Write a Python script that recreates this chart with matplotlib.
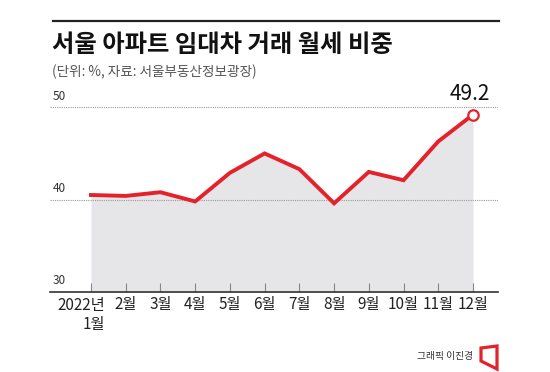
import matplotlib.pyplot as plt
from matplotlib.lines import Line2D
from matplotlib.patches import Polygon
from matplotlib.transforms import blended_transform_factory, ScaledTranslation

plt.rcParams['font.family'] = ['Noto Sans CJK KR', 'DejaVu Sans']

# monthly share of wolse (monthly rent) in Seoul apartment leases, %
months = ['2022년\n1월', '2월', '3월', '4월', '5월', '6월',
          '7월', '8월', '9월', '10월', '11월', '12월']
share = [40.5, 40.4, 40.8, 39.8, 42.9, 45.0, 43.3, 39.6, 43.0, 42.1, 46.3, 49.2]
yticks = [30, 40, 50]

RED = '#e4222b'

fig = plt.figure(figsize=(5.5, 3.72), dpi=100)
W, H = 550, 372

# axes placed in pixel terms of the reference
ax = fig.add_axes([50 / W, 80 / H, 448 / W, 194 / H])
x = list(range(1, len(share) + 1))

ax.fill_between(x, share, 30, color='#e6e6e8', lw=0, zorder=1)
ax.plot(x, share, color=RED, lw=2.8, solid_joinstyle='miter', zorder=3)
ax.plot(x[-1], share[-1], 'o', ms=7.5, mfc='white', mec=RED, mew=1.6,
        zorder=4, clip_on=False)
ax.annotate(f'{share[-1]}', (x[-1], share[-1]), xytext=(-2, 7),
            textcoords='offset points', ha='center', va='bottom',
            fontsize=15, color='#111111')

ax.set_xlim(-0.18, 12.72)
ax.set_ylim(30, 51)

# dotted gridlines + y labels sitting above them
tr = blended_transform_factory(ax.transAxes, ax.transData)
for v in yticks:
    if v > 30:
        ax.axhline(v, color='#9a9a9a', lw=0.8, ls=(0, (1, 1)), zorder=2)
    ax.text(0.007, v + 0.5, str(v), transform=tr, ha='left', va='bottom',
            fontsize=8.5, color='#333333')

for s in ['top', 'right', 'left']:
    ax.spines[s].set_visible(False)
ax.spines['bottom'].set_color('#333333')
ax.spines['bottom'].set_linewidth(1.2)
ax.spines['bottom'].set_zorder(5)

ax.set_yticks([])
ax.set_xticks(x)
ax.set_xticklabels([''] + months[1:], fontsize=11, color='#222222')
ax.tick_params(axis='x', direction='in', length=6.5, width=0.8,
               color='#888888', pad=3)

# first label is right aligned so it clears "2월"
xtr = blended_transform_factory(ax.transData, ax.transAxes)
off = ScaledTranslation(14 / 100, -5 / 100, fig.dpi_scale_trans)
ax.text(x[0], 0, months[0], transform=xtr + off, ha='right', va='top',
        multialignment='right', fontsize=11, color='#222222',
        linespacing=1.15)

# header
fig.add_artist(Line2D([53 / W, 499 / W], [1 - 21 / H, 1 - 21 / H],
                      color='#222222', lw=1.6))
fig.text(52 / W, 1 - 45 / H, '서울 아파트 임대차 거래 월세 비중',
         fontsize=17.5, fontweight='black', color='#111111', va='center')
fig.text(52 / W, 1 - 72 / H, '(단위: %, 자료: 서울부동산정보광장)',
         fontsize=9.8, color='#555555', va='center')

# credit
fig.text(473 / W, 1 - 356 / H, '그래픽 이진경', fontsize=7,
         color='#333333', ha='right', va='center')
icon = [(481, 348), (497, 346), (497, 369), (481, 361)]
fig.add_artist(Polygon([(px / W, 1 - py / H) for px, py in icon],
                       closed=True, fill=False, edgecolor=RED, lw=2.3,
                       joinstyle='miter', transform=fig.transFigure))

fig.savefig('out.png', dpi=100)
